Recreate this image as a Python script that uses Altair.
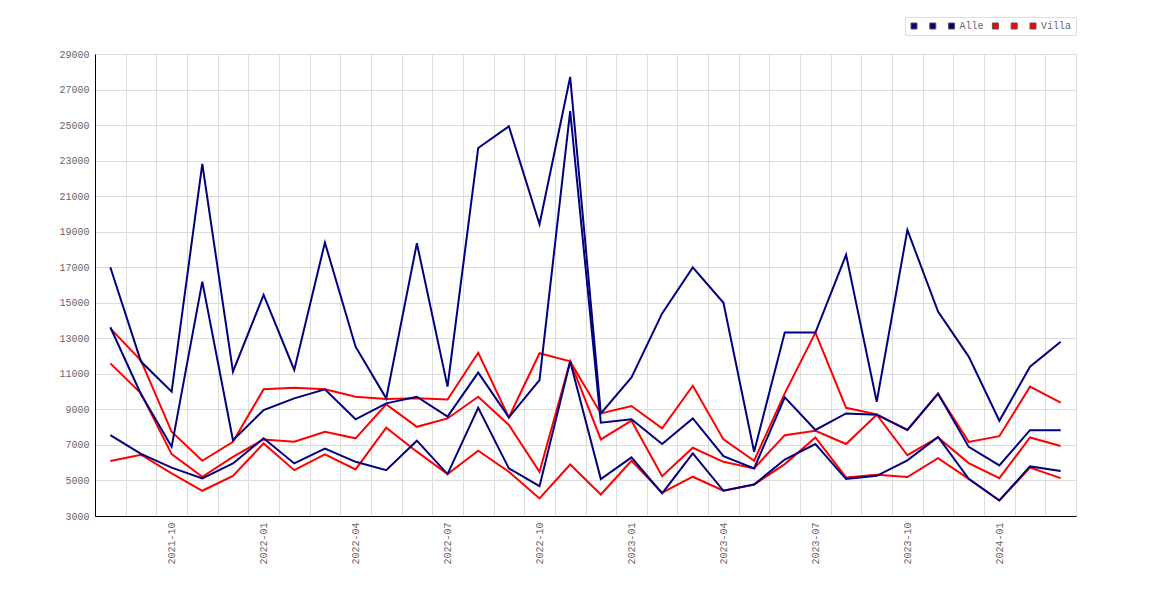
import altair as alt
import pandas as pd

months = ["2021-08", "2021-09", "2021-10", "2021-11", "2021-12",
          "2022-01", "2022-02", "2022-03", "2022-04", "2022-05", "2022-06",
          "2022-07", "2022-08", "2022-09", "2022-10", "2022-11", "2022-12",
          "2023-01", "2023-02", "2023-03", "2023-04", "2023-05", "2023-06",
          "2023-07", "2023-08", "2023-09", "2023-10", "2023-11", "2023-12",
          "2024-01", "2024-02", "2024-03"]

alle_1 = [17000, 11690, 10000, 22820, 11120, 15440, 11220, 18390, 12530, 9620,
          18350, 10280, 23710, 24930, 19420, 27710, 8770, 10800, 14400, 16990,
          15000, 6620, 13320, 13320, 17700, 9430, 19100, 14500, 11970, 8360,
          11400, 12810]
alle_2 = [13620, 9850, 6900, 16190, 7270, 8960, 9620, 10130, 8440, 9340,
          9710, 8590, 11070, 8550, 10650, 25780, 8250, 8440, 7050, 8490,
          6370, 5680, 9680, 7840, 8770, 8700, 7840, 9900, 6890, 5850,
          7830, 7830]
alle_3 = [7550, 6500, 5720, 5110, 5960, 7370, 5960, 6800, 6050, 5580,
          7240, 5360, 9090, 5680, 4680, 11700, 5080, 6300, 4270, 6520,
          4420, 4770, 6180, 7050, 5080, 5260, 6130, 7450, 5090, 3870,
          5790, 5530]
villa_1 = [13560, 11750, 7740, 6110, 7180, 10130, 10220, 10130, 9710, 9580,
           9620, 9560, 12190, 8550, 12160, 11700, 8770, 9190, 7930, 10330,
           7310, 6110, 9900, 13320, 9090, 8720, 7840, 9870, 7170, 7490,
           10280, 9380]
villa_2 = [11590, 9900, 6480, 5210, 6330, 7310, 7180, 7740, 7370, 9280,
           8020, 8490, 9710, 8120, 5490, 11700, 7310, 8360, 5240, 6840,
           6050, 5680, 7550, 7800, 7050, 8700, 6420, 7420, 5980, 5130,
           7420, 6940]
villa_3 = [6090, 6450, 5400, 4420, 5260, 7080, 5580, 6470, 5620, 7970,
           6620, 5360, 6670, 5490, 3990, 5900, 4210, 6110, 4310, 5210,
           4420, 4770, 5920, 7420, 5170, 5320, 5190, 6260, 5090, 3870,
           5720, 5130]

series_names = ["Alle_1", "Alle_2", "Alle", "Villa_1", "Villa_2", "Villa"]
series_values = [alle_1, alle_2, alle_3, villa_1, villa_2, villa_3]
series_colors = ["#000080", "#000080", "#000080", "#ff0000", "#ff0000", "#ff0000"]
y_ticks = list(range(3000, 29001, 2000))

rows = []
for name, vals in zip(series_names, series_values):
    for m, v in zip(months, vals):
        rows.append({"month": m, "value": v, "series": name,
                     "group": "Alle" if name.startswith("Alle") else "Villa"})
df = pd.DataFrame(rows)

FONT = "Liberation Mono"

x_enc = alt.X("month:O",
              scale=alt.Scale(type="band", domain=months, paddingInner=0, paddingOuter=0),
              axis=alt.Axis(title=None, tickBand="extent", grid=True, gridColor="#dddddd",
                            ticks=False, domainColor="#000000", labelAngle=270,
                            labelOverlap=False, labelPadding=6, labelFont=FONT,
                            labelFontSize=10, labelColor="#666666",
                            labelExpr="indexof(['01','04','07','10'], substring(datum.label, 5, 7)) >= 0 ? datum.label : ''"))
y_enc = alt.Y("value:Q",
              scale=alt.Scale(domain=[3000, 29000], nice=False, zero=False),
              axis=alt.Axis(title=None, values=y_ticks, format="d", ticks=False,
                            domainColor="#000000", gridColor="#dddddd", labelPadding=6,
                            labelFont=FONT, labelFontSize=10, labelColor="#666666"))

color_scale = alt.Scale(domain=series_names, range=series_colors)

base = alt.Chart(df)

red_lines = base.transform_filter(alt.datum.group == "Villa").mark_line(strokeWidth=2).encode(
    x=x_enc, y=y_enc,
    color=alt.Color("series:N", scale=color_scale, legend=None),
    detail="series:N")
navy_lines = base.transform_filter(alt.datum.group == "Alle").mark_line(strokeWidth=2).encode(
    x=x_enc, y=y_enc,
    color=alt.Color("series:N", scale=color_scale, legend=None),
    detail="series:N")

legend_layer = base.mark_square(opacity=0, filled=True).encode(
    x=x_enc, y=y_enc,
    fill=alt.Fill("series:N", scale=color_scale,
                  legend=alt.Legend(title=None, orient="none", legendX=810, legendY=-37,
                                    direction="horizontal", columns=6,
                                    symbolType="square", symbolSize=36,
                                    symbolStrokeColor="#555555", symbolStrokeWidth=1,
                                    symbolOpacity=1, labelFont=FONT, labelFontSize=10,
                                    labelColor="#666666", labelOffset=3, columnPadding=5.8,
                                    padding=4, strokeColor="#dddddd", fillColor="#ffffff",
                                    labelExpr="indexof(datum.label, '_') >= 0 ? ' ' : datum.label")))

chart = alt.layer(red_lines, navy_lines, legend_layer).resolve_scale(
    color="shared", fill="independent"
).properties(
    width=981, height=462,
    autosize=alt.AutoSizeParams(type="none"),
    padding={"left": 87, "top": 46, "right": 12, "bottom": 70},
).configure_view(stroke=None).configure(background="white")

chart.save("out.html", embed_options={"renderer": "svg", "actions": False})
